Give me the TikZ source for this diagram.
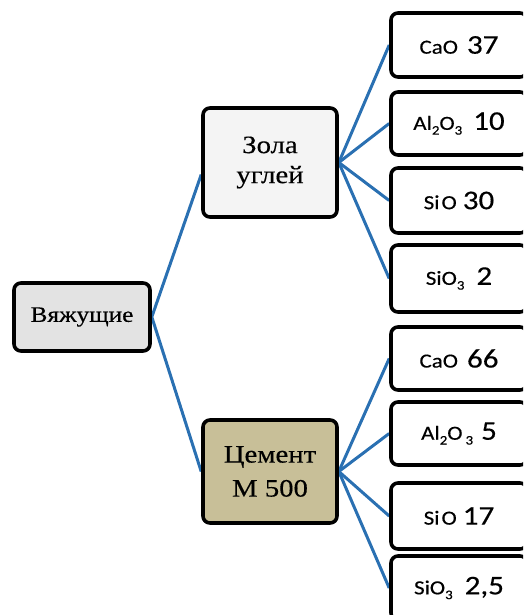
\documentclass[tikz,border=0pt]{standalone}
\usepackage{fontspec}
\usetikzlibrary{backgrounds}
\newfontfamily\serifw[FakeStretch=1.15,FakeBold=0.35]{Liberation Serif}
\newfontfamily\sansw[FakeStretch=1.15,FakeBold=0.35]{Carlito}
\definecolor{linkblue}{RGB}{42,112,178}
\definecolor{binderfill}{RGB}{227,227,227}
\definecolor{ashfill}{RGB}{244,244,244}
\definecolor{cementfill}{RGB}{200,191,152}
% chemical formula and value helpers
\newcommand\chem[1]{{\fontsize{20}{24}\selectfont #1}}
\newcommand\val[1]{{\fontsize{27}{30}\selectfont #1}}
\newcommand\sub[1]{\raisebox{-0.5ex}{\fontsize{13}{13}\selectfont #1}}
\tikzset{
  box/.style={draw=black, line width=3.6pt, rounded corners=7pt, inner sep=0pt, align=center},
  leafbox/.style={box, fill=white, minimum width=136pt, font=\sansw},
  link/.style={draw=linkblue, line width=3pt},
}
\begin{document}
\begin{tikzpicture}[x=1pt,y=-1pt]
\useasboundingbox (0,0) rectangle (523,615);
\clip (0,0) rectangle (523,615);

% root
\node[box, fill=binderfill, minimum width=136pt, minimum height=68pt,
      font=\serifw\fontsize{22}{26}\selectfont] (binder) at (82,317) {Вяжущие};

% second level
\node[box, fill=ashfill, minimum width=134pt, minimum height=109pt,
      font=\serifw\fontsize{25}{30}\selectfont] (ash) at (270,162.5) {Зола\\углей};
\node[box, fill=cementfill, minimum width=134pt, minimum height=103pt,
      font=\serifw\fontsize{25}{34}\selectfont] (cement) at (270,471.5) {Цемент\\М 500};

% composition of coal ash
\node[leafbox, minimum height=64pt] (a1) at (459,45) {\chem{CaO}\hspace{9pt}\val{37}};
\node[leafbox, minimum height=63pt] (a2) at (459,123.5) {\chem{Al\sub{2}O\sub{3}}\hspace{11pt}\val{10}};
\node[leafbox, minimum height=65pt] (a3) at (459,200.5) {\chem{Si\hspace{2pt}O}\hspace{6pt}\val{30}};
\node[leafbox, minimum height=67pt] (a4) at (459,278.5) {\chem{SiO\sub{3}}\hspace{12pt}\val{2}};

% composition of cement
\node[leafbox, minimum height=63pt] (c1) at (459,358.5) {\chem{CaO}\hspace{9pt}\val{66}};
\node[leafbox, minimum height=63pt] (c2) at (459,433.5) {\chem{Al\sub{2}O\hspace{3pt}\sub{3}}\hspace{8pt}\val{5}};
\node[leafbox, minimum height=66pt] (c3) at (459,516) {\chem{Si\hspace{2pt}O}\hspace{6pt}\val{17}};
\node[leafbox, minimum height=64pt] (c4) at (459,588) {\chem{SiO\sub{3}}\hspace{12pt}\val{2,5}};

% connectors behind the boxes
\begin{pgfonlayer}{background}
  \draw[link] (binder.east) -- (ash.190);
  \draw[link] (binder.east) -- (cement.west);
  \foreach \n in {a1,a2,a3,a4} \draw[link] (ash.east) -- (\n.west);
  \foreach \n in {c1,c2,c3,c4} \draw[link] (cement.east) -- (\n.west);
\end{pgfonlayer}
\end{tikzpicture}
\end{document}
